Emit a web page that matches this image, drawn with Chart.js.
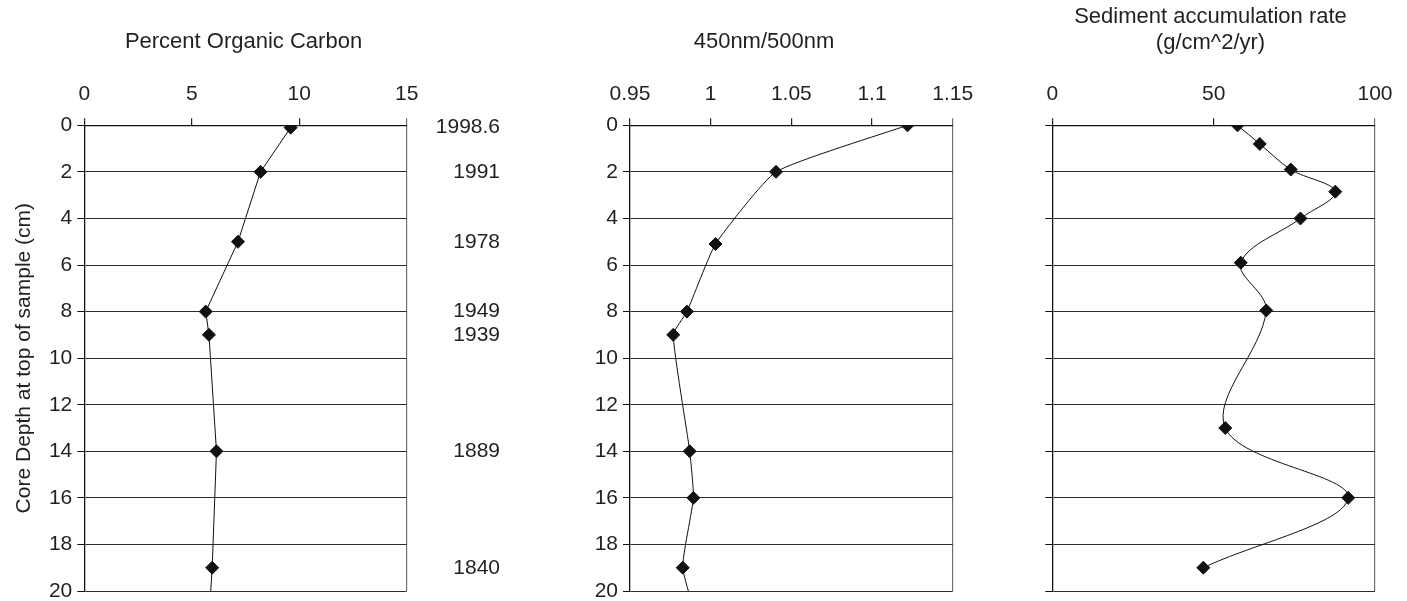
<!DOCTYPE html>
<html>
<head>
<meta charset="utf-8">
<title>Sediment core profiles</title>
<script src="https://cdn.jsdelivr.net/npm/chart.js@4.4.0/dist/chart.umd.min.js"></script>
<style>
  html, body { margin: 0; padding: 0; background: #fff; }
  body { width: 1407px; height: 601px; position: relative; overflow: hidden; }
  canvas { position: absolute; top: 0; }
</style>
</head>
<body>
<canvas id="carbon" width="533" height="601" style="left:-13px"></canvas>
<canvas id="color" width="470" height="601" style="left:520px"></canvas>
<canvas id="sediment" width="417" height="601" style="left:990px"></canvas>
<script>
// depth axis ticks (cm), shared by all panels
const depthTicks = [0, 2, 4, 6, 8, 10, 12, 14, 16, 18, 20];

// panel 1: percent organic carbon (last sample lies below the 20 cm cut)
const carbonDepth = [0.1, 2, 5, 8, 9, 14, 19, 22];
const carbonValues = [9.6, 8.2, 7.15, 5.65, 5.8, 6.15, 5.95, 5.75];
const carbonTicks = [0, 5, 10, 15];
const yearLabels = ['1998.6', '1991', '1978', '1949', '1939', '1889', '1840'];

// panel 2: 450nm/500nm ratio
const colorDepth = [0, 2, 5.1, 8, 9, 14, 16, 19, 22];
const colorValues = [1.122, 1.0405, 1.003, 0.9853, 0.9768, 0.987, 0.9893, 0.9827, 0.995];
const colorTicks = [0.95, 1, 1.05, 1.1, 1.15];

// panel 3: sediment accumulation rate
const sedDepth = [0, 0.8, 1.9, 2.85, 4, 5.9, 7.95, 13, 16, 19];
const sedValues = [57.4, 64.3, 73.9, 87.7, 76.9, 58.4, 66.3, 53.6, 91.7, 46.8];
const sedTicks = [0, 50, 100];

const FONT = "'Liberation Sans', Arial, Helvetica, sans-serif";
const INK = '#231f20';
Chart.defaults.font.family = FONT;
Chart.defaults.color = INK;

function makePanel(id, p) {
  const points = p.depth.map((d, i) => ({ x: p.values[i], y: d }));
  const xMax = p.xTicks[p.xTicks.length - 1];

  const scales = {
    x: {
      type: 'linear',
      position: 'top',
      min: p.xTicks[0],
      max: xMax,
      afterBuildTicks: s => { s.ticks = p.xTicks.map(v => ({ value: v })); },
      afterFit: s => { s.height = p.xHeight; s.paddingLeft = 0; s.paddingRight = 0; },
      ticks: {
        font: { size: 21 }, padding: 11, autoSkip: false, maxRotation: 0, color: INK,
        callback: v => String(v)
      },
      grid: {
        // only the right edge of the plot gets a line
        color: c => (c.tick && c.tick.value === xMax) ? '#707070' : 'rgba(0,0,0,0)',
        tickColor: c => (c.tick && c.tick.value === xMax) ? '#707070' : '#222',
        lineWidth: 1.2,
        tickLength: 7
      },
      border: { display: true, color: '#111', width: 1.2 }
    },
    y: {
      type: 'linear',
      position: 'left',
      min: 0,
      max: 20,
      reverse: true,
      afterBuildTicks: s => { s.ticks = depthTicks.map(v => ({ value: v })); },
      afterFit: s => { s.width = p.yWidth; s.paddingTop = 0; s.paddingBottom = 0; },
      ticks: { font: { size: 21 }, padding: 5, autoSkip: false, color: INK },
      grid: { color: '#2e2e2e', lineWidth: 1, tickLength: 7, tickColor: '#111' },
      border: { display: true, color: '#111', width: 1.3 },
      title: p.yTitle ? {
        display: true,
        text: p.yTitle,
        font: { size: 21 },
        color: INK,
        padding: { top: 24.4, bottom: 0 }
      } : { display: false }
    }
  };

  if (p.years) {
    scales.years = {
      type: 'linear',
      position: 'right',
      min: 0,
      max: 20,
      reverse: true,
      afterBuildTicks: s => { s.ticks = p.depth.slice(0, p.years.length).map(v => ({ value: v })); },
      afterFit: s => { s.width = p.y2Width; s.paddingTop = 0; s.paddingBottom = 0; },
      ticks: {
        font: { size: 21 },
        padding: 29,
        crossAlign: 'far',
        autoSkip: false,
        color: INK,
        callback: (v, i) => p.years[i]
      },
      grid: { display: false, drawTicks: false },
      border: { display: false }
    };
  }

  return new Chart(document.getElementById(id), {
    type: 'scatter',
    data: {
      datasets: [{
        data: points,
        showLine: true,
        borderColor: '#111',
        borderWidth: 1,
        tension: p.tension,
        pointStyle: 'rectRot',
        pointRadius: 6.5,
        pointBackgroundColor: '#111',
        pointBorderColor: '#111',
        pointBorderWidth: 1
      }]
    },
    options: {
      responsive: false,
      animation: false,
      events: [],
      layout: { padding: { left: p.padLeft, right: p.padRight, top: 0, bottom: 10 } },
      plugins: {
        legend: { display: false },
        tooltip: { enabled: false },
        title: {
          display: true,
          text: p.title,
          color: INK,
          font: { size: 22, weight: 'normal' },
          padding: { top: p.titleTop, bottom: 0 }
        }
      },
      scales
    }
  });
}

makePanel('carbon', {
  title: 'Percent Organic Carbon',
  depth: carbonDepth, values: carbonValues, xTicks: carbonTicks,
  years: yearLabels, yTitle: 'Core Depth at top of sample (cm)',
  tension: 0,
  padLeft: 0, padRight: 20, yWidth: 97.3, y2Width: 93.3,
  titleTop: 28.8, xHeight: 70.1
});

makePanel('color', {
  title: '450nm/500nm',
  depth: colorDepth, values: colorValues, xTicks: colorTicks,
  tension: 0.15,
  padLeft: 55.3, padRight: 37.3, yWidth: 54.7,
  titleTop: 28.8, xHeight: 70.1
});

makePanel('sediment', {
  title: ['Sediment accumulation rate', '(g/cm^2/yr)'],
  depth: sedDepth, values: sedValues, xTicks: sedTicks,
  tension: 0.35,
  padLeft: 56, padRight: 32, yWidth: 6.3,
  titleTop: 3.8, xHeight: 68.7
});
</script>
</body>
</html>
